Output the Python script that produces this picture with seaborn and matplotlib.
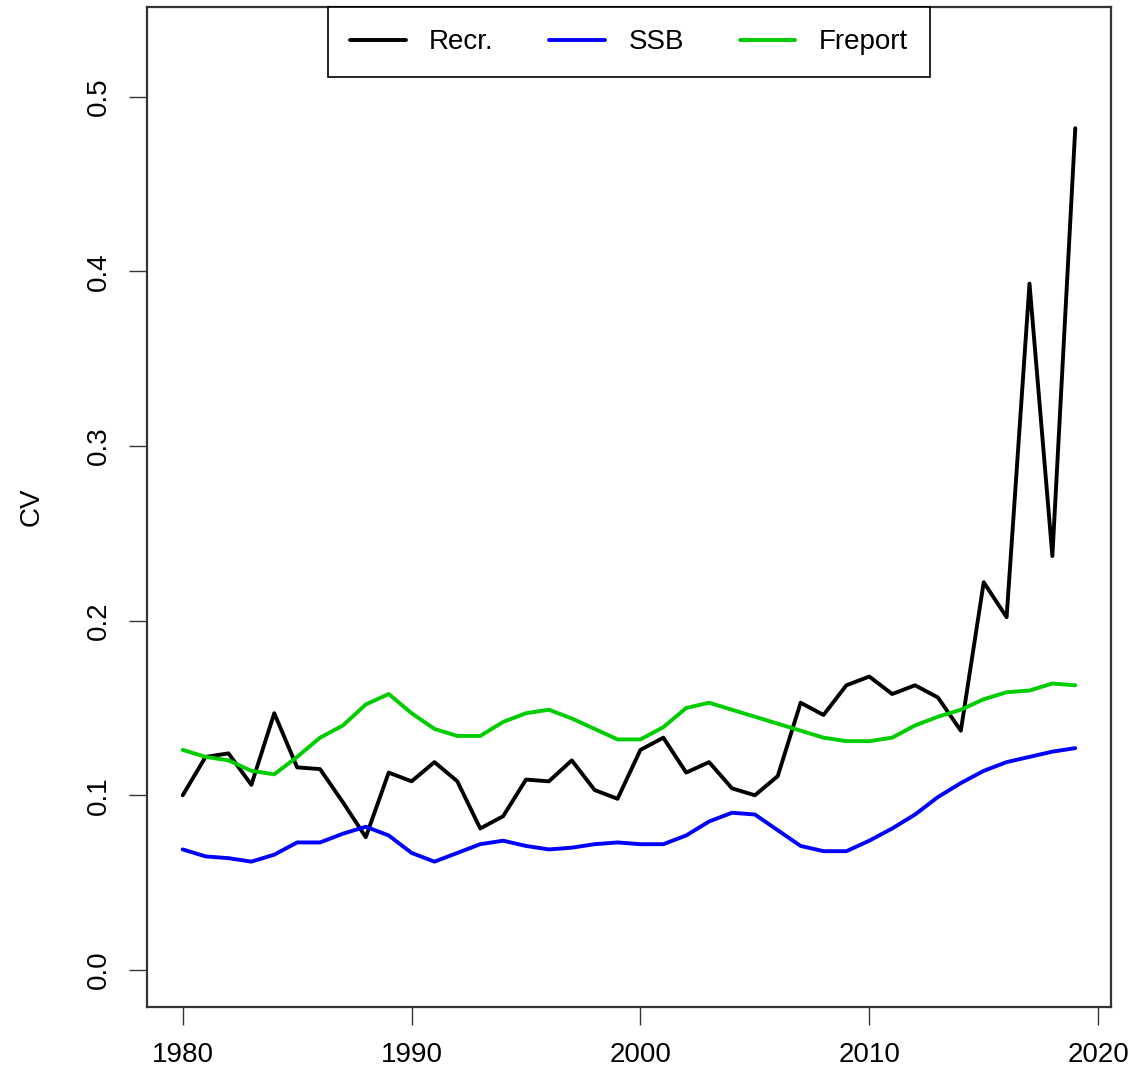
import numpy as np
import pandas as pd
import seaborn as sns
from matplotlib import pyplot as plt

years = list(range(1980, 2020))

recr = [0.100, 0.122, 0.124, 0.106, 0.147, 0.116, 0.115, 0.096, 0.076, 0.113,
        0.108, 0.119, 0.108, 0.081, 0.088, 0.109, 0.108, 0.120, 0.103, 0.098,
        0.126, 0.133, 0.113, 0.119, 0.104, 0.100, 0.111, 0.153, 0.146, 0.163,
        0.168, 0.158, 0.163, 0.156, 0.137, 0.222, 0.202, 0.393, 0.237, 0.482]
ssb = [0.069, 0.065, 0.064, 0.062, 0.066, 0.073, 0.073, 0.078, 0.082, 0.077,
       0.067, 0.062, 0.067, 0.072, 0.074, 0.071, 0.069, 0.070, 0.072, 0.073,
       0.072, 0.072, 0.077, 0.085, 0.090, 0.089, 0.080, 0.071, 0.068, 0.068,
       0.074, 0.081, 0.089, 0.099, 0.107, 0.114, 0.119, 0.122, 0.125, 0.127]
freport = [0.126, 0.122, 0.120, 0.114, 0.112, 0.122, 0.133, 0.140, 0.152, 0.158,
           0.147, 0.138, 0.134, 0.134, 0.142, 0.147, 0.149, 0.144, 0.138, 0.132,
           0.132, 0.139, 0.150, 0.153, 0.149, 0.145, 0.141, 0.137, 0.133, 0.131,
           0.131, 0.133, 0.140, 0.145, 0.149, 0.155, 0.159, 0.160, 0.164, 0.163]

series = ['Recr.', 'SSB', 'Freport']
colors = {'Recr.': '#000000', 'SSB': '#0000FF', 'Freport': '#00CD00'}


if __name__ == '__main__':

    df = pd.DataFrame({'year': years * 3,
                       'cv': recr + ssb + freport,
                       'series': np.repeat(series, len(years))})

    sns.set_style('white')
    plt.rcParams['font.family'] = ['Liberation Sans', 'DejaVu Sans']
    plt.rcParams['text.color'] = 'black'
    plt.rcParams['axes.labelcolor'] = 'black'
    plt.rcParams['xtick.color'] = 'black'
    plt.rcParams['ytick.color'] = 'black'

    fig = plt.figure(figsize=(11.37, 10.78), dpi=100)
    ax = fig.add_axes([0.1293, 0.0659, 0.8478, 0.9276])

    sns.lineplot(data=df, x='year', y='cv', hue='series', palette=colors,
                 hue_order=series, linewidth=2.8, ax=ax, legend=False)

    # R-style axis limits: 4% padding, ylim = (0, 1.1 * max)
    ymax = 1.1 * max(recr)
    ax.set_ylim(-0.04 * ymax, 1.04 * ymax)
    span = years[-1] - years[0]
    ax.set_xlim(years[0] - 0.04 * span, years[-1] + 0.04 * span)

    ax.set_xticks([1980, 1990, 2000, 2010, 2020])
    ax.set_yticks([0.0, 0.1, 0.2, 0.3, 0.4, 0.5])
    ax.set_yticklabels(['0.0', '0.1', '0.2', '0.3', '0.4', '0.5'],
                       rotation=90, va='center')
    ax.tick_params(axis='both', length=13, width=1.0, color='#333333',
                   labelsize=20, pad=12, direction='out', left=True, bottom=True)
    ax.set_xlabel('')
    ax.set_ylabel('CV', fontsize=20, labelpad=30)
    for s in ax.spines.values():
        s.set_visible(True)
        s.set_color('#333333')
        s.set_linewidth(1.6)

    handles = [plt.Line2D([], [], color=colors[s], lw=2.8) for s in series]
    leg = ax.legend(handles, series, loc='upper center', ncol=3,
                    fontsize=20, frameon=True, fancybox=False,
                    borderaxespad=0, handlelength=2.0, columnspacing=2.0,
                    borderpad=0.8, handletextpad=0.85,
                    bbox_to_anchor=(0.5, 1.0))
    leg.get_frame().set_edgecolor('black')
    leg.get_frame().set_linewidth(1.2)
    leg.get_frame().set_alpha(1)

    plt.savefig('out.png', dpi=100)
